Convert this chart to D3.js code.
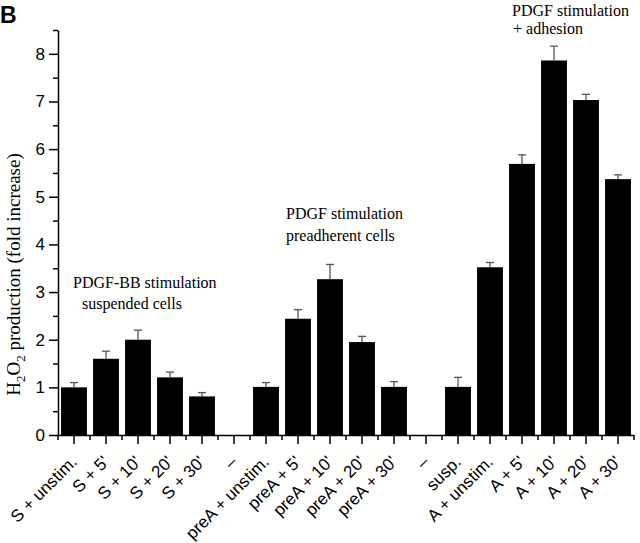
<!DOCTYPE html>
<html><head><meta charset="utf-8">
<script src="https://cdn.jsdelivr.net/npm/d3@7"></script>
<style>
body{margin:0;background:#fff;}
svg{display:block;}
</style></head>
<body>
<svg id="chart" width="640" height="543"></svg>
<script>
const categories = ["S + unstim.","S + 5'","S + 10'","S + 20'","S + 30'","\u2013",
  "preA + unstim.","preA + 5'","preA + 10'","preA + 20'","preA + 30'","\u2013",
  "susp.","A + unstim.","A + 5'","A + 10'","A + 20'","A + 30'"];
const values = [1.00,1.60,2.00,1.21,0.81,0,
  1.01,2.44,3.27,1.95,1.01,0,
  1.01,3.52,5.69,7.86,7.03,5.37];
const errors = [0.10,0.16,0.20,0.11,0.08,0,
  0.09,0.19,0.31,0.12,0.11,0,
  0.20,0.10,0.19,0.30,0.12,0.09];
const yTicks = [0,1,2,3,4,5,6,7,8];
const annotations = [
  {lines:["PDGF-BB stimulation","suspended cells"]},
  {lines:["PDGF stimulation","preadherent cells"]},
  {lines:["PDGF stimulation","+ adhesion"]}
];

const svg = d3.select("#chart");
const mLeft = 58, mRight = 634, mTop = 30, mBottom = 435;

const x = d3.scaleBand().domain(d3.range(categories.length)).range([mLeft, mRight])
  .paddingInner(0.19).paddingOuter(0.095);
const y = d3.scaleLinear().domain([0, 8.5]).range([mBottom, mTop]);

// bars
svg.append("g").selectAll("rect").data(values).join("rect")
  .attr("x", (d,i) => x(i)).attr("width", x.bandwidth())
  .attr("y", d => y(d)).attr("height", d => y(0) - y(d))
  .attr("fill", "#000");

// error bars
const eg = svg.append("g").attr("stroke", "#555").attr("stroke-width", 1.3).attr("fill","none");
values.forEach((v,i) => {
  if (!errors[i]) return;
  const cx = x(i) + x.bandwidth()/2;
  eg.append("line").attr("x1", cx).attr("x2", cx).attr("y1", y(v)).attr("y2", y(v+errors[i]));
  eg.append("line").attr("x1", cx-4).attr("x2", cx+4).attr("y1", y(v+errors[i])).attr("y2", y(v+errors[i]));
});

// y axis
const yAxis = svg.append("g").attr("transform", `translate(${mLeft},0)`)
  .call(d3.axisLeft(y).tickValues(yTicks).tickSize(9).tickPadding(4).tickSizeOuter(0));
const yMinor = d3.range(0.5, 8.6, 1);
svg.append("g").attr("transform", `translate(${mLeft},0)`)
  .call(d3.axisLeft(y).tickValues(yMinor).tickSize(5).tickFormat("").tickSizeOuter(0))
  .call(g => g.select(".domain").remove())
  .selectAll("line").attr("stroke","#000").attr("stroke-width",1.5);
yAxis.selectAll("text").attr("font-family","Liberation Sans, Arial, sans-serif").attr("font-size", 17).attr("fill","#000");
yAxis.selectAll("line,path").attr("stroke","#000").attr("stroke-width",1.5);

// x axis
const xAxis = svg.append("g").attr("transform", `translate(0,${mBottom})`)
  .call(d3.axisBottom(x).tickSize(9).tickSizeOuter(0).tickFormat(i => categories[i]));
xAxis.selectAll("line,path").attr("stroke","#000").attr("stroke-width",1.5);
xAxis.selectAll("text")
  .attr("font-family","Liberation Sans, Arial, sans-serif").attr("font-size", 17).attr("fill","#000")
  .attr("text-anchor","end")
  .attr("x", 0).attr("y", 0).attr("dy", 0)
  .attr("transform","translate(4,28) rotate(-45)");
// minor ticks at band boundaries
const bounds = d3.range(categories.length + 1).map(i => i === categories.length ? mRight : x(i) - x.step()*x.paddingInner()/2);
svg.append("g").attr("stroke","#000").attr("stroke-width",1.5)
  .selectAll("line").data(bounds).join("line")
  .attr("x1", d => d).attr("x2", d => d).attr("y1", mBottom).attr("y2", mBottom + 5);

// y label
const yl = svg.append("text")
  .attr("transform", `translate(20,${(119+430)/2}) rotate(-90)`)
  .attr("text-anchor","middle")
  .attr("font-family","Liberation Serif, Times New Roman, serif").attr("font-size", 19).attr("fill","#000");
yl.append("tspan").text("H");
yl.append("tspan").text("2").attr("font-size", 13).attr("dy", 5);
yl.append("tspan").text("O").attr("dy", -5);
yl.append("tspan").text("2").attr("font-size", 13).attr("dy", 5);
yl.append("tspan").text(" production (fold increase)").attr("dy", -5);

// annotations
const annPos = [{x:73, y:288, dy:21, indent:[0,9]},{x:286, y:219, dy:22, indent:[0,0]},{x:512, y:16, dy:18, indent:[0,1]}];
annotations.forEach((a,k) => {
  const t = svg.append("text").attr("font-family","Liberation Serif, Times New Roman, serif")
    .attr("font-size", 16).attr("fill","#000");
  a.lines.forEach((l,j) => {
    t.append("tspan").attr("x", annPos[k].x + annPos[k].indent[j]).attr("y", annPos[k].y + j*annPos[k].dy).text(l);
  });
});

// panel letter
svg.append("text").attr("x", 0).attr("y", 23).text("B")
  .attr("font-family","Liberation Sans, Arial, sans-serif").attr("font-weight","bold").attr("font-size", 23);
</script>
</body></html>
